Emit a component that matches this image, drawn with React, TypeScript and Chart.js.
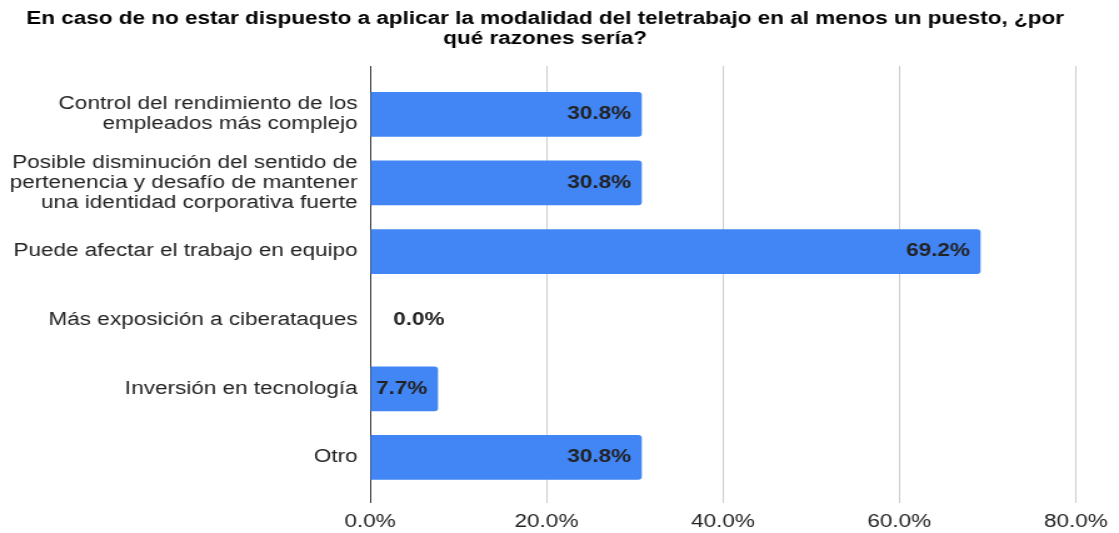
import React, { useEffect, useRef } from "react";
import { Chart, registerables } from "chart.js";

Chart.register(...registerables);

const titleLines = [
  "En caso de no estar dispuesto a aplicar la modalidad del teletrabajo en al menos un puesto, ¿por",
  "qué razones sería?",
];

const categories: string[][] = [
  ["Control del rendimiento de los", "empleados más complejo"],
  ["Posible disminución del sentido de", "pertenencia y desafío de mantener", "una identidad corporativa fuerte"],
  ["Puede afectar el trabajo en equipo"],
  ["Más exposición a ciberataques"],
  ["Inversión en tecnología"],
  ["Otro"],
];

const values = [30.8, 30.8, 69.2, 0.0, 7.7, 30.8];

const xTicks = [0, 20, 40, 60, 80];

const FONT = "'Liberation Sans', Arial, Helvetica, sans-serif";

const titlePlugin = {
  id: "twoLineTitle",
  afterDraw(chart: any) {
    const ctx = chart.ctx;
    ctx.save();
    ctx.font = `bold 18px ${FONT}`;
    ctx.fillStyle = "#000000";
    ctx.textAlign = "center";
    ctx.textBaseline = "middle";
    titleLines.forEach((line, i) => {
      ctx.fillText(line, 436, 19 + i * 19.8);
    });
    ctx.restore();
  },
};

const barLabels = {
  id: "barLabels",
  afterDatasetsDraw(chart: any) {
    const ctx = chart.ctx;
    const meta = chart.getDatasetMeta(0);
    ctx.save();
    ctx.font = `bold 18px ${FONT}`;
    ctx.fillStyle = "#222222";
    ctx.textBaseline = "middle";
    meta.data.forEach((el: any, i: number) => {
      const text = values[i].toFixed(1) + "%";
      const w = ctx.measureText(text).width;
      const barW = el.x - el.base;
      if (barW >= w + 10) {
        ctx.textAlign = "right";
        ctx.fillText(text, el.x - 8.5, el.y);
      } else {
        ctx.textAlign = "left";
        ctx.fillText(text, el.x + 18.5, el.y);
      }
    });
    ctx.restore();
  },
};

export default function App() {
  const ref = useRef<HTMLCanvasElement | null>(null);

  useEffect(() => {
    if (!ref.current) return;
    const chart = new Chart(ref.current, {
      type: "bar",
      data: {
        datasets: [
          {
            data: values.map((v, i) => ({ x: v, y: i })),
            backgroundColor: "#4285F4",
            borderRadius: 3,
            borderSkipped: "start",
            barPercentage: 0.652,
            categoryPercentage: 1,
          },
        ],
      },
      options: {
        indexAxis: "y",
        responsive: false,
        animation: false,
        devicePixelRatio: 1,
        layout: { padding: { top: 66, left: 0, right: 33.6, bottom: 0 } },
        plugins: {
          legend: { display: false },
          tooltip: { enabled: false },
          title: { display: false },
        },
        scales: {
          x: {
            type: "linear",
            min: 0,
            max: 80,
            afterBuildTicks: (scale: any) => {
              scale.ticks = xTicks.map((v) => ({ value: v }));
            },
            afterFit: (scale: any) => {
              scale.height = 28;
            },
            grid: { color: "#cccccc", lineWidth: 1, drawTicks: false },
            border: { display: false },
            ticks: {
              color: "#222222",
              font: { family: FONT, size: 18 },
              padding: 9,
              maxRotation: 0,
              callback: (v: any) => Number(v).toFixed(1) + "%",
            },
          },
          y: {
            type: "linear",
            reverse: true,
            offset: false,
            min: -0.703,
            max: 5.659,
            afterBuildTicks: (scale: any) => {
              scale.ticks = categories.map((_, i) => ({ value: i }));
            },
            afterFit: (scale: any) => {
              scale.width = 296;
            },
            grid: { display: false, drawTicks: false, offset: false },
            border: { display: true, color: "#333333", width: 1 },
            ticks: {
              color: "#222222",
              autoSkip: false,
              font: { family: FONT, size: 18, lineHeight: 1.13 },
              padding: 10,
              callback: (v: any) => categories[Math.round(Number(v))] ?? "",
            },
          },
        },
      },
      plugins: [barLabels, titlePlugin],
    } as any);
    return () => chart.destroy();
  }, []);

  return (
    <div style={{ position: "fixed", left: 0, top: 0, width: 1119, height: 533, background: "#ffffff" }}>
      <canvas
        ref={ref}
        width={895}
        height={533}
        style={{ display: "block", width: "1119px", height: "533px" }}
      />
    </div>
  );
}
